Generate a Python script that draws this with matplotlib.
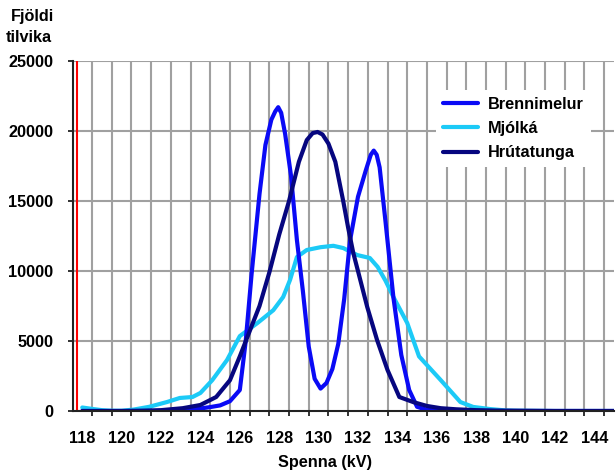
import matplotlib
matplotlib.use("Agg")
import matplotlib.pyplot as plt
from matplotlib.ticker import FixedLocator, NullFormatter

plt.rcParams['font.family'] = ['Liberation Sans', 'DejaVu Sans']
plt.rcParams['font.weight'] = 'bold'

# Brennimelur
brenni_x = [118, 119, 120, 121, 122, 123, 124, 124.5, 125, 125.5, 126, 126.3, 126.6, 127,
            127.3, 127.6, 127.8, 127.95, 128.1, 128.3, 128.6, 128.9, 129.2, 129.5, 129.8,
            130.1, 130.4, 130.7, 131.0, 131.3, 131.6, 132.0, 132.4, 132.65, 132.8, 132.95,
            133.1, 133.4, 133.8, 134.2, 134.6, 135.0, 135.5, 136, 137, 138, 139, 140, 141,
            142, 143, 144, 145]
brenni_y = [0, 0, 0, 0, 0, 50, 180, 280, 400, 700, 1500, 5000, 9800, 15500,
            19000, 20800, 21400, 21700, 21300, 19800, 16800, 12200, 8600, 4600, 2300,
            1600, 2000, 3000, 4800, 8000, 12200, 15300, 17200, 18300, 18600, 18300,
            17400, 13500, 8100, 4000, 1500, 300, 80, 40, 20, 10, 0, 0, 0,
            0, 0, 0, 0]

# Mjólká
mjolka_x = [118, 118.5, 119, 119.5, 120, 120.6, 121.4, 122.3, 122.95, 123.6, 124.0, 124.6,
            125.35, 126.0, 126.9, 127.7, 128.2, 128.55, 128.9, 129.4, 130.1, 130.75,
            131.25, 131.96, 132.6, 133.0, 133.4, 133.8, 134.5, 135.1, 136.2, 137.2,
            137.85, 138.7, 139.5, 140, 141, 142, 143, 144, 145]
mjolka_y = [250, 150, 60, 20, 20, 100, 300, 640, 930, 1000, 1290, 2200,
            3640, 5350, 6290, 7200, 8140, 9360, 11000, 11500, 11700, 11800,
            11640, 11140, 10930, 10290, 9300, 8140, 6290, 3900, 2210, 640,
            290, 140, 40, 20, 10, 0, 0, 0, 0]

# Hrútatunga
hrut_x = [118, 119, 120, 121, 122, 123.1, 124.0, 124.8, 125.5, 126.0, 126.5, 127.0, 127.5,
          128.0, 128.5, 129.0, 129.4, 129.7, 129.95, 130.2, 130.5, 130.85, 131.25, 131.5,
          131.76, 132.0, 132.47, 132.97, 133.5, 134.1, 134.8, 135.5, 136.2, 137.0, 138,
          139, 140, 141, 142, 143, 144, 145]
hrut_y = [0, 0, 0, 20, 60, 200, 430, 1000, 2200, 3900, 5700, 7500, 9900,
          12600, 15000, 17800, 19350, 19850, 19930, 19750, 19100, 17800, 15000, 13100,
          11300, 10000, 7430, 5070, 2930, 1000, 640, 360, 200, 120, 60,
          30, 20, 10, 0, 0, 0, 0]

x_labels = [118, 120, 122, 124, 126, 128, 130, 132, 134, 136, 138, 140, 142, 144]
y_ticks = [0, 5000, 10000, 15000, 20000, 25000]
red_line_x = 117.74

FS = 11.7

fig = plt.figure(figsize=(6.16, 4.70), dpi=100)
ax = fig.add_axes([73/616, 1-411/470, (614-73)/616, (411-61)/470])

ax.set_xlim(117.53, 145.0)
ax.set_ylim(0, 25000)

grid_c = '#a0a0a0'
for g in [118.5 + i for i in range(27)]:
    ax.axvline(g, color=grid_c, lw=1.5, zorder=0)
for t in y_ticks[1:]:
    ax.axhline(t, color=grid_c, lw=1.5, zorder=0)
ax.axvline(red_line_x, color='#ff0000', lw=1.5, zorder=1)

lw = 3.0
ax.plot(brenni_x, brenni_y, color='#0a0af5', lw=lw, label='Brennimelur', zorder=3,
        solid_joinstyle='round', solid_capstyle='round')
ax.plot(mjolka_x, mjolka_y, color='#1ccaf7', lw=lw, label='Mjólká', zorder=2,
        solid_joinstyle='round', solid_capstyle='round')
ax.plot(hrut_x, hrut_y, color='#06067f', lw=lw, label='Hrútatunga', zorder=4,
        solid_joinstyle='round', solid_capstyle='round')

for s in ['top', 'right']:
    ax.spines[s].set_visible(False)
for s in ['left', 'bottom']:
    ax.spines[s].set_color('#222222')
    ax.spines[s].set_linewidth(1.5)
    ax.spines[s].set_zorder(5)

ax.set_yticks(y_ticks)
ax.set_yticklabels([str(v) for v in y_ticks], fontsize=FS, fontweight='bold')
ax.tick_params(axis='y', length=3.6, width=1.3, pad=10.5, color='#222222')

ax.set_xticks(x_labels)
ax.set_xticklabels([str(v) for v in x_labels], fontsize=FS, fontweight='bold')
ax.tick_params(axis='x', which='major', length=0, pad=14.5)
ax.xaxis.set_minor_locator(FixedLocator([118.5 + i for i in range(27)]))
ax.xaxis.set_minor_formatter(NullFormatter())
ax.tick_params(axis='x', which='minor', length=3.6, width=1.3, color='#222222')

fig.text(33/616, 1-16/470, 'Fjöldi', ha='center', va='center', fontsize=FS, fontweight='bold')
fig.text(29/616, 1-38/470, 'tilvika', ha='center', va='center', fontsize=FS, fontweight='bold')
fig.text(325/616, 1-462/470, 'Spenna (kV)', ha='center', va='center', fontsize=FS, fontweight='bold')

leg = ax.legend(loc='upper left', bbox_to_anchor=(428/616, 1-82/470), bbox_transform=fig.transFigure,
                frameon=True, fancybox=False, edgecolor='none', facecolor='white', framealpha=1,
                prop={'weight': 'bold', 'size': FS}, handlelength=2.2, handletextpad=0.6,
                labelspacing=0.58, borderpad=0.4)
for h in leg.get_lines():
    h.set_linewidth(3.0)

fig.savefig('out.png', dpi=100)
